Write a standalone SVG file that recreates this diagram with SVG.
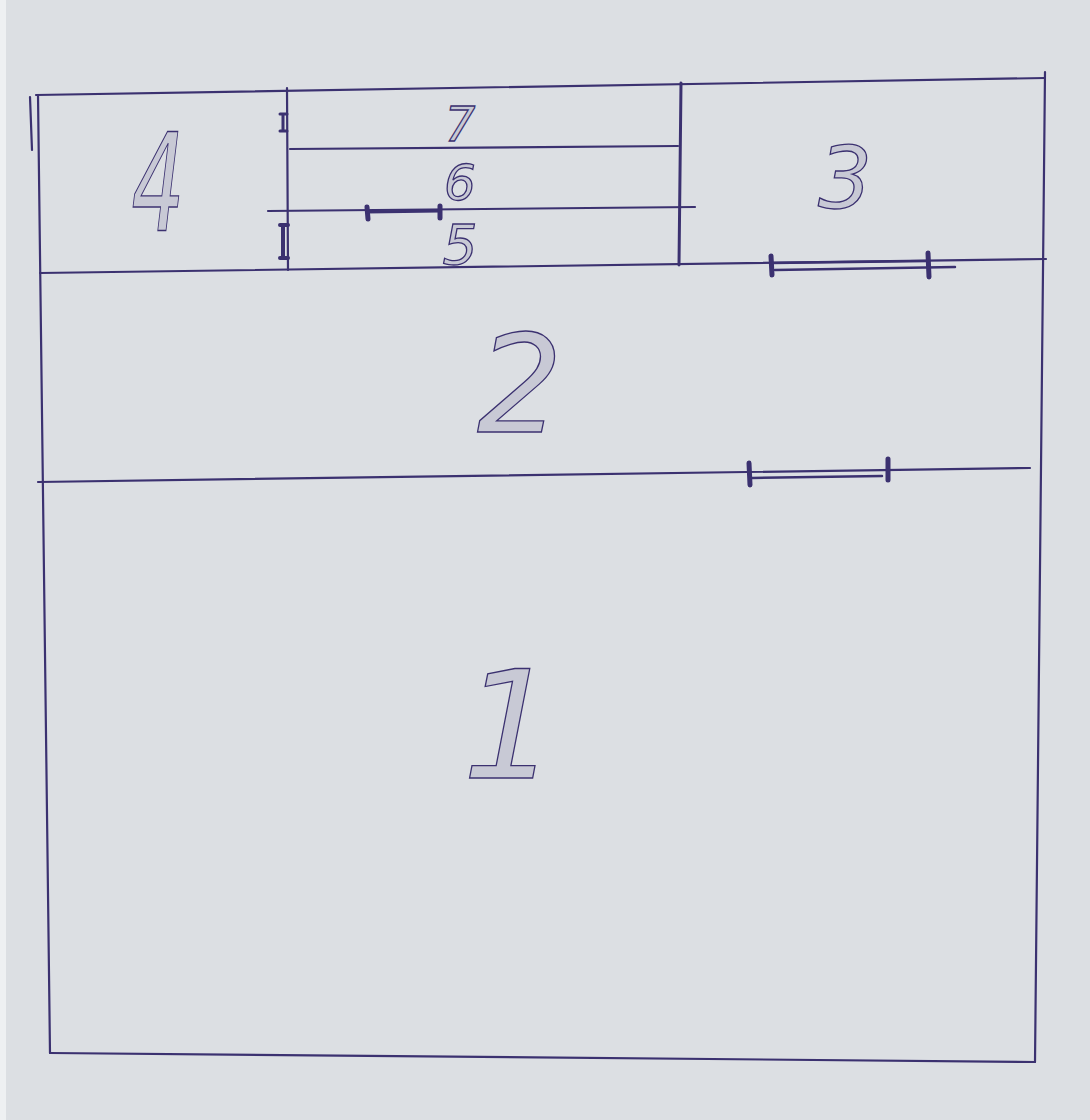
<svg xmlns="http://www.w3.org/2000/svg" width="1090" height="1120" viewBox="0 0 1090 1120">
<style>
.w{stroke:#3b3170;stroke-width:2.2;fill:none;stroke-linecap:round}
.d{stroke:#3b3170;stroke-width:5;fill:none;stroke-linecap:round}
.t{font-family:"DejaVu Sans","Liberation Sans",sans-serif;font-style:italic;fill:#3b3170;fill-opacity:0.12;stroke:#3b3170;stroke-width:1.3;text-anchor:middle}
</style>
<rect x="0" y="0" width="1090" height="1120" fill="#dcdfe3"/>
<rect x="0" y="0" width="6" height="1120" fill="#eef0f2"/>
<g id="walls">
<path class="w" d="M36 95 L1045 78"/>
<path class="w" d="M38 95 L50 1053"/>
<path class="w" d="M30 97 L32 150"/>
<path class="w" d="M50 1053 L1035 1062"/>
<path class="w" d="M1045 72 L1035 1062"/>
<path class="w" d="M40 273 L1046 259"/>
<path class="w" d="M38 482 L1030 468"/>
<path class="w" d="M287 88 L288 270"/>
<path class="w" d="M681 83 L679 265" style="stroke-width:3"/>
<path class="w" d="M290 149 L678 146"/>
<path class="w" d="M268 211 L695 207"/>
</g>
<g id="doors">
<path class="d" d="M280 114 L287 114 M280 131 L287 131 M283 114 L283 131" style="stroke-width:3"/>
<path class="d" d="M280 225 L288 225 M280 258 L288 258 M283 225 L283 258" style="stroke-width:4"/>
<path class="d" d="M367 207 L368 219 M440 206 L440 218"/>
<path class="w" d="M367 212 L440 211" style="stroke-width:3"/>
<path class="d" d="M771 256 L772 275 M928 253 L929 277"/>
<path class="w" d="M772 263 L928 261 M775 270 L955 267" style="stroke-width:2.5"/>
<path class="d" d="M749 463 L750 485 M888 459 L888 480"/>
<path class="w" d="M752 478 L882 476" style="stroke-width:2.5"/>
</g>
<g id="room4"><text class="t" transform="translate(158,230) scale(0.62,1)" x="0" y="0" font-size="135">4</text></g>
<g id="room7"><text class="t" x="460" y="141" font-size="48">7</text></g>
<g id="room6"><text class="t" x="460" y="200" font-size="50">6</text></g>
<g id="room5"><text class="t" x="460" y="264" font-size="55">5</text></g>
<g id="room3"><text class="t" x="845" y="208" font-size="85">3</text></g>
<g id="room2"><text class="t" x="520" y="432" font-size="135">2</text></g>
<g id="room1"><text class="t" x="510" y="778" font-size="150">1</text></g>
</svg>
